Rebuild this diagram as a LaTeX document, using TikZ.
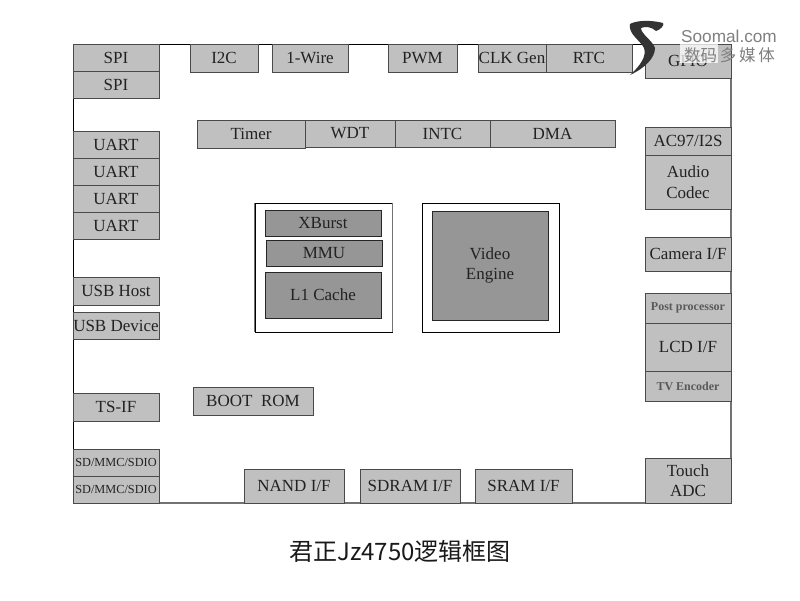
\documentclass[tikz,border=0pt]{standalone}
\usepackage{fontspec}
\setmainfont{Liberation Serif}
\newfontfamily\cjk{Noto Sans CJK SC}
\newfontfamily\logofont{Liberation Sans}
\definecolor{blk}{HTML}{C0C0C0}
\definecolor{dark}{HTML}{969696}
\definecolor{edge}{HTML}{4A4A4A}
\definecolor{txt}{HTML}{222222}
\tikzset{
  lightbox/.style={draw=edge,fill=blk,line width=.9pt,inner sep=0pt,text=txt,align=center,font=\fontsize{17}{20.5}\selectfont,execute at begin node={\vspace*{2pt}}},
  darkbox/.style={lightbox,fill=dark,draw=black!85},
  outerbox/.style={draw=black,fill=white,line width=.9pt,inner sep=0pt},
  smallbox/.style={lightbox,font=\fontsize{12.3}{14}\selectfont},
  fadedbox/.style={lightbox,draw=edge,text=black!65,font=\bfseries\fontsize{12}{14}\selectfont},
}
% \bx{style}{name}{x0}{y0}{x1}{y1}{text}
\newcommand{\bx}[7]{%
  \pgfmathsetmacro{\bxw}{#5-#3}\pgfmathsetmacro{\bxh}{#6-#4}%
  \pgfmathsetmacro{\bxa}{(#3+#5)/2}\pgfmathsetmacro{\bxb}{(#4+#6)/2}%
  \node[#1,minimum width=\bxw pt,minimum height=\bxh pt] (#2) at (\bxa,\bxb) {#7};}
\begin{document}
\begin{tikzpicture}[x=1pt,y=-1pt]
\useasboundingbox (0,0) rectangle (800,600);
\fill[white] (0,0) rectangle (800,600);
% chip frame
\coordinate (tl) at (73,44); \coordinate (tr) at (731,44);
\coordinate (br) at (731,503); \coordinate (bl) at (73,503);
\draw[black,line width=1pt] (tr) -- (tl) -- (bl);
\draw[black!55,line width=1.5pt] (tr) -- (br) -- (bl);
% top row
\bx{lightbox}{spia}{73}{44}{159}{71}{SPI}
\bx{lightbox}{spib}{73}{71}{159}{98}{SPI}
\bx{lightbox}{i2c}{190}{44}{258}{72}{I2C}
\bx{lightbox}{wire}{272}{44}{348}{72}{1-Wire}
\bx{lightbox}{pwm}{388}{44}{457}{72}{PWM}
\bx{lightbox}{clk}{478}{44}{546}{72}{CLK Gen}
\bx{lightbox}{rtc}{546}{44}{632}{72}{RTC}
\bx{lightbox}{gpio}{645}{44}{731}{78}{GPIO}
% timer row
\bx{lightbox}{timer}{197}{120}{305}{148}{Timer}
\bx{lightbox}{wdt}{305}{120}{395}{147}{WDT}
\bx{lightbox}{intc}{395}{120}{490}{147}{INTC}
\bx{lightbox}{dma}{490}{120}{615}{147}{DMA}
% left column
\bx{lightbox}{uarta}{73}{131}{159}{158}{UART}
\bx{lightbox}{uartb}{73}{158}{159}{185}{UART}
\bx{lightbox}{uartc}{73}{185}{159}{212}{UART}
\bx{lightbox}{uartd}{73}{212}{159}{239}{UART}
\bx{lightbox}{usbh}{73}{277}{159}{305}{USB Host}
\bx{lightbox}{usbd}{73}{312}{159}{339}{USB Device}
\bx{lightbox}{ts}{73}{393}{159}{421}{TS-IF}
\bx{lightbox}{boot}{193}{387}{313}{415}{BOOT\ \ ROM}
\bx{smallbox}{sda}{73}{449}{159}{476}{SD/MMC/SDIO}
\bx{smallbox}{sdb}{73}{476}{159}{503}{SD/MMC/SDIO}
% bottom row
\bx{lightbox}{nand}{244}{469}{344}{503}{NAND I/F}
\bx{lightbox}{sdram}{360}{469}{460}{503}{SDRAM I/F}
\bx{lightbox}{sram}{475}{469}{572}{503}{SRAM I/F}
\bx{lightbox}{touch}{645}{458}{731}{503}{Touch\\ADC}
% right column
\bx{lightbox}{ac}{645}{127}{731}{155}{AC97/I2S}
\bx{lightbox}{codec}{645}{155}{731}{209}{Audio\\Codec}
\bx{lightbox}{cam}{645}{237}{731}{271}{Camera I/F}
\bx{fadedbox}{post}{645}{293}{731}{323}{Post processor}
\bx{fadedbox}{tv}{645}{371}{731}{401}{TV Encoder}
\bx{lightbox}{lcd}{645}{323}{731}{371}{LCD I/F}
% core
\bx{outerbox}{cpu}{255}{203}{392}{332}{}
\bx{outerbox}{vid}{422}{203}{559}{332}{}
\draw[black!55,line width=1.2pt] (cpu.north west) -- (cpu.south west) (cpu.north east) -- (cpu.south east);
\bx{darkbox}{xb}{265}{210}{381}{236}{XBurst}
\bx{darkbox}{mmu}{266}{240}{382}{266}{MMU}
\bx{darkbox}{l1}{265}{272}{381}{318}{L1 Cache}
\bx{darkbox}{ve}{432}{211}{548}{320}{Video\\Engine}
% caption
\node[font=\cjk\fontsize{24}{28}\selectfont,text=black!90,inner sep=0pt] (cap) at (400,551) {君正Jz4750逻辑框图};
% watermark
\fill[white,opacity=.75] (680,44) rectangle (718,63);
\fill[black!80] (630,24) .. controls (637,20) and (652,20) .. (663,23) .. controls (665,25) and (660,30) .. (656,31)
  .. controls (652,27) and (645,26) .. (641,28) .. controls (641,34) and (652,40) .. (655,48)
  .. controls (655,58) and (645,68) .. (630,75) .. controls (640,66) and (647,56) .. (644,48)
  .. controls (640,40) and (628,34) .. (630,24) -- cycle;
\node[text=black!50,font=\logofont\fontsize{17.2}{19}\selectfont,inner sep=0pt] (lg) at (729,36) {Soomal.com};
\node[text=black!50,font=\cjk\fontsize{16.5}{19}\selectfont,inner sep=0pt] (lgb) at (729.5,55) {数码\,多\,媒\,体};
\end{tikzpicture}
\end{document}
